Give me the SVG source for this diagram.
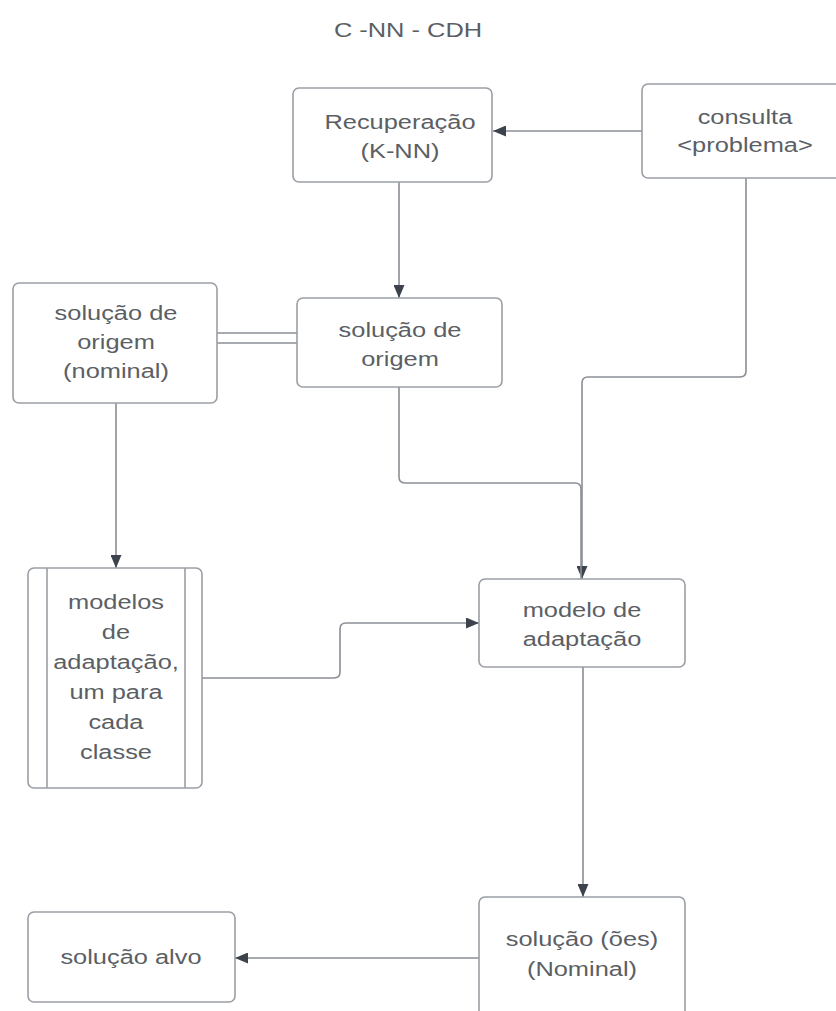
<svg xmlns="http://www.w3.org/2000/svg" width="836" height="1011" viewBox="0 0 836 1011">
<style>
.box{fill:#ffffff;stroke:#9a9ea4;stroke-width:1.6}
.t{font-family:"Liberation Sans",Arial,sans-serif;font-size:20px;fill:#5b5f65;text-anchor:middle;transform-box:fill-box;transform-origin:center;transform:scaleX(1.27)}
.c{fill:none;stroke:#8a8e95;stroke-width:1.6}
</style>
<defs>
<marker id="ah" viewBox="0 0 13 11" refX="13" refY="5.5" markerWidth="13" markerHeight="11" markerUnits="userSpaceOnUse" orient="auto">
<path d="M0,0 L13,5.5 L0,11 Z" fill="#3c434c"/>
</marker>
</defs>
<rect width="836" height="1011" fill="#ffffff"/>
<text class="t" x="408" y="37">C -NN - CDH</text>

<g id="connectors">
<path class="c" d="M642,131 H493" marker-end="url(#ah)"/>
<path class="c" d="M399,182 V298" marker-end="url(#ah)"/>
<path class="c" d="M217,333 H297 M217,343 H297"/>
<path class="c" d="M116,403 V568" marker-end="url(#ah)"/>
<path class="c" d="M746,178 V371 Q746,377 740,377 H588 Q582,377 582,383 V579" marker-end="url(#ah)"/>
<path class="c" d="M399,387 V477 Q399,483 405,483 H575 Q581,483 581,489 V579"/>
<path class="c" d="M202,678 H334 Q340,678 340,672 V629 Q340,623 346,623 H479" marker-end="url(#ah)"/>
<path class="c" d="M583,667 V897" marker-end="url(#ah)"/>
<path class="c" d="M479,958 H235" marker-end="url(#ah)"/>
</g>

<g id="recuperacao">
<rect class="box" x="293" y="88" width="199" height="94" rx="6"/>
<text class="t" x="400" y="129">Recuperação</text>
<text class="t" x="400" y="158">(K-NN)</text>
</g>

<g id="consulta">
<rect class="box" x="642" y="84" width="210" height="94" rx="6"/>
<text class="t" x="745" y="124">consulta</text>
<text class="t" x="745" y="152">&lt;problema&gt;</text>
</g>

<g id="solucao-origem-nominal">
<rect class="box" x="13" y="283" width="204" height="120" rx="6"/>
<text class="t" x="116" y="320">solução de</text>
<text class="t" x="116" y="349">origem</text>
<text class="t" x="116" y="378">(nominal)</text>
</g>

<g id="solucao-origem">
<rect class="box" x="297" y="298" width="205" height="89" rx="6"/>
<text class="t" x="400" y="337">solução de</text>
<text class="t" x="400" y="366">origem</text>
</g>

<g id="modelos-adaptacao">
<rect class="box" x="28" y="568" width="174" height="220" rx="6"/>
<path class="box" d="M47,568 V788 M185,568 V788" fill="none"/>
<text class="t" x="116" y="609">modelos</text>
<text class="t" x="116" y="639">de</text>
<text class="t" x="116" y="669">adaptação,</text>
<text class="t" x="116" y="699">um para</text>
<text class="t" x="116" y="729">cada</text>
<text class="t" x="116" y="759">classe</text>
</g>

<g id="modelo-adaptacao">
<rect class="box" x="479" y="579" width="206" height="88" rx="6"/>
<text class="t" x="582" y="617">modelo de</text>
<text class="t" x="582" y="646">adaptação</text>
</g>

<g id="solucao-oes">
<rect class="box" x="479" y="897" width="206" height="130" rx="6"/>
<text class="t" x="582" y="946">solução (ões)</text>
<text class="t" x="582" y="976">(Nominal)</text>
</g>

<g id="solucao-alvo">
<rect class="box" x="28" y="912" width="207" height="90" rx="6"/>
<text class="t" x="131" y="964">solução alvo</text>
</g>
</svg>
